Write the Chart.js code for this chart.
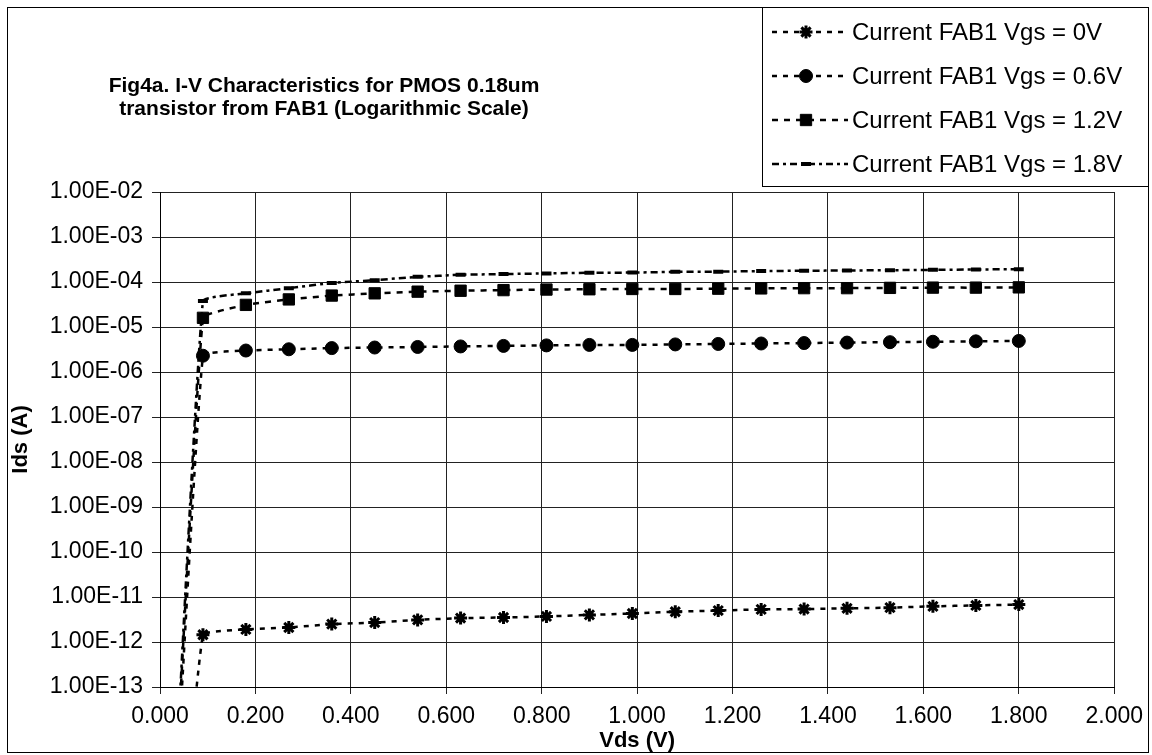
<!DOCTYPE html>
<html>
<head>
<meta charset="utf-8">
<script src="https://cdn.jsdelivr.net/npm/chart.js@4.4.0/dist/chart.umd.min.js"></script>
<style>
  html, body { margin: 0; padding: 0; background: #fff; }
  #wrap { width: 1152px; height: 755px; position: relative; }
</style>
</head>
<body>
<div id="wrap"><canvas id="grafica"></canvas></div>
<script>
// Vds (V) - el primer punto (0 V) solo sirve para la caida vertical
const vds = [0, 0.09, 0.18, 0.27, 0.36, 0.45, 0.54, 0.63, 0.72, 0.81, 0.90,
             0.99, 1.08, 1.17, 1.26, 1.35, 1.44, 1.53, 1.62, 1.71, 1.80];

// Ids (A)
const ids0V  = [1e-22, 1.45e-12, 1.9e-12, 2.1e-12, 2.5e-12, 2.7e-12, 3.1e-12, 3.4e-12, 3.5e-12, 3.7e-12, 4.0e-12,
                4.3e-12, 4.7e-12, 5.0e-12, 5.3e-12, 5.4e-12, 5.6e-12, 5.8e-12, 6.2e-12, 6.5e-12, 6.8e-12];
const ids06V = [1e-22, 2.3e-6, 3.0e-6, 3.2e-6, 3.4e-6, 3.5e-6, 3.6e-6, 3.7e-6, 3.8e-6, 3.9e-6, 4.0e-6,
                4.0e-6, 4.1e-6, 4.2e-6, 4.3e-6, 4.4e-6, 4.5e-6, 4.6e-6, 4.7e-6, 4.8e-6, 4.9e-6];
const ids12V = [1e-22, 1.6e-5, 3.1e-5, 4.1e-5, 5.0e-5, 5.6e-5, 6.1e-5, 6.4e-5, 6.6e-5, 6.8e-5, 6.9e-5,
                7.0e-5, 7.0e-5, 7.1e-5, 7.2e-5, 7.3e-5, 7.3e-5, 7.4e-5, 7.5e-5, 7.5e-5, 7.6e-5];
const ids18V = [1e-22, 3.8e-5, 5.6e-5, 7.3e-5, 9.5e-5, 1.1e-4, 1.3e-4, 1.45e-4, 1.5e-4, 1.55e-4, 1.6e-4,
                1.62e-4, 1.68e-4, 1.7e-4, 1.75e-4, 1.78e-4, 1.8e-4, 1.83e-4, 1.86e-4, 1.9e-4, 1.92e-4];

const etiquetas = ['Current FAB1 Vgs = 0V', 'Current FAB1 Vgs = 0.6V',
                   'Current FAB1 Vgs = 1.2V', 'Current FAB1 Vgs = 1.8V'];

const yTicks = [1e-13, 1e-12, 1e-11, 1e-10, 1e-9, 1e-8, 1e-7, 1e-6, 1e-5, 1e-4, 1e-3, 1e-2];
const xTicks = [0, 0.2, 0.4, 0.6, 0.8, 1.0, 1.2, 1.4, 1.6, 1.8, 2.0];

const tituloLineas = ['Fig4a. I-V Characteristics for PMOS 0.18um',
                      'transistor from FAB1 (Logarithmic Scale)'];

// estilos de cada serie
const estilos = [
  { pointStyle: 'star',   radius: 6.5, borderWidth: 3, dash: [5, 6] },
  { pointStyle: 'circle', radius: 6.5, borderWidth: 1, dash: [5, 6] },
  { pointStyle: 'rect',   radius: 8,   borderWidth: 1, dash: [6, 6] },
  { pointStyle: 'line',   radius: 5,   borderWidth: 4, dash: [7, 4, 3, 4] }
];

const FUENTE = 'Liberation Sans, Arial, Helvetica, sans-serif';

function puntos(vals) {
  return vds.map((x, i) => ({ x: x, y: vals[i] }));
}

function etiquetaE(v) {
  const exp = Math.round(Math.log10(v));
  const abs = Math.abs(exp);
  return '1.00E' + (exp < 0 ? '-' : '+') + (abs < 10 ? '0' + abs : abs);
}

const series = [ids0V, ids06V, ids12V, ids18V];
const datasets = series.map((vals, i) => ({
  label: etiquetas[i],
  data: puntos(vals),
  borderColor: '#000',
  backgroundColor: '#000',
  borderWidth: 2.5,
  borderDash: estilos[i].dash,
  pointStyle: estilos[i].pointStyle,
  pointRadius: ctx => (ctx.raw && ctx.raw.x === 0) ? 0 : estilos[i].radius,
  pointBorderWidth: estilos[i].borderWidth,
  pointBorderColor: '#000',
  pointBackgroundColor: '#000',
  tension: 0.1,
  fill: false
}));

// titulo, leyenda y marco dibujados a mano
const extrasPlugin = {
  id: 'extras',
  afterDraw(chart) {
    const ctx = chart.ctx;
    ctx.save();
    // marco exterior
    ctx.strokeStyle = '#000';
    ctx.lineWidth = 1;
    ctx.setLineDash([]);
    ctx.strokeRect(7.5, 7.5, 1141, 745);

    // titulo
    ctx.fillStyle = '#000';
    ctx.font = 'bold 21px ' + FUENTE;
    ctx.textAlign = 'center';
    ctx.textBaseline = 'middle';
    ctx.fillText(tituloLineas[0], 324, 86);
    ctx.fillText(tituloLineas[1], 324, 109);

    // leyenda
    ctx.fillStyle = '#fff';
    ctx.fillRect(762.5, 7.5, 386, 179);
    ctx.strokeRect(762.5, 7.5, 386, 179);
    ctx.font = '24px ' + FUENTE;
    ctx.textAlign = 'left';
    chart.data.datasets.forEach((ds, i) => {
      const y = 32 + i * 44;
      ctx.strokeStyle = '#000';
      ctx.lineWidth = ds.borderWidth;
      ctx.setLineDash(ds.borderDash);
      ctx.beginPath();
      ctx.moveTo(772, y);
      ctx.lineTo(848, y);
      ctx.stroke();
      ctx.setLineDash([]);
      ctx.fillStyle = '#000';
      ctx.lineWidth = estilos[i].borderWidth;
      Chart.helpers.drawPoint(ctx, {
        pointStyle: estilos[i].pointStyle,
        radius: estilos[i].radius,
        borderWidth: estilos[i].borderWidth,
        rotation: 0
      }, 806, y);
      ctx.fillStyle = '#000';
      ctx.fillText(ds.label, 852, y + 1);
    });
    ctx.restore();
  }
};

const ctx = document.getElementById('grafica').getContext('2d');
const myChart = new Chart(ctx, {
  type: 'line',
  data: { datasets: datasets },
  options: {
    responsive: true,
    maintainAspectRatio: false,
    animation: false,
    layout: { padding: { top: 192, right: 36, left: 0, bottom: 0 } },
    plugins: {
      legend: { display: false },
      title: { display: false },
      tooltip: { enabled: false }
    },
    scales: {
      x: {
        type: 'linear',
        min: 0,
        max: 2,
        afterBuildTicks: s => { s.ticks = xTicks.map(v => ({ value: v })); },
        afterFit: s => { s.height = 68; },
        ticks: {
          callback: v => v.toFixed(3),
          font: { family: FUENTE, size: 23 },
          color: '#000',
          padding: 9,
          maxRotation: 0,
          autoSkip: false
        },
        grid: { color: '#222', lineWidth: 1, tickLength: 7 },
        border: { color: '#000', width: 1 },
        title: {
          display: true,
          text: 'Vds (V)',
          font: { family: FUENTE, size: 22, weight: 'bold' },
          color: '#000',
          padding: { top: 0, bottom: 1 }
        }
      },
      y: {
        type: 'logarithmic',
        min: 1e-13,
        max: 1e-2,
        afterBuildTicks: s => { s.ticks = yTicks.map(v => ({ value: v })); },
        afterFit: s => { s.width = 160; },
        ticks: {
          callback: v => etiquetaE(v),
          font: { family: FUENTE, size: 23 },
          color: '#000',
          padding: 9,
          autoSkip: false
        },
        grid: { color: '#222', lineWidth: 1, tickLength: 8 },
        border: { color: '#000', width: 1 },
        title: {
          display: true,
          text: 'Ids (A)',
          font: { family: FUENTE, size: 22, weight: 'bold' },
          color: '#000',
          padding: { top: 8, bottom: 0 }
        }
      }
    }
  },
  plugins: [extrasPlugin]
});
</script>
</body>
</html>
